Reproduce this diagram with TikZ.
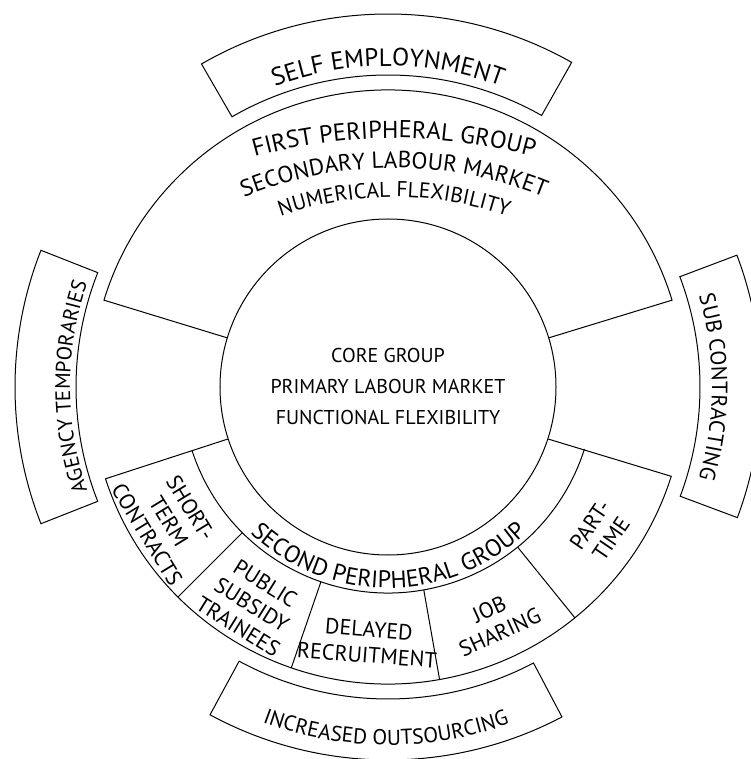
\documentclass[tikz,border=0pt]{standalone}
\usepackage{fontspec}
\setmainfont{PT Sans}
\usetikzlibrary{decorations.text}
\newcommand\ringbox[2]{\draw (#1:312pt) arc[start angle=#1, end angle=#2, radius=312pt] -- (#2:373pt) arc[start angle=#2, end angle=#1, radius=373pt] -- cycle;}
\begin{document}
\begin{tikzpicture}[x=1pt,y=1pt,line width=1pt,
  segtext/.style={align=center, inner sep=0pt, font=\fontsize{22}{25.5}\selectfont},
  curved/.style={decorate, decoration={text along path, text align=center, text={#1}}}]
\useasboundingbox (-388,-372) rectangle (362,387);
% core
\node[draw, circle, minimum size=336pt, inner sep=0pt, align=center,
      font=\fontsize{20}{31}\selectfont] (core) at (0,0)
      {CORE GROUP\\PRIMARY LABOUR MARKET\\FUNCTIONAL FLEXIBILITY};
% first peripheral group
\draw (core.17) -- (17:297pt) arc[start angle=17, end angle=163, radius=297pt] -- (core.163);
% second peripheral group
\draw (core.198) -- (198:297pt) arc[start angle=198, end angle=342.5, radius=297pt] -- (core.342.5);
\draw (198:206pt) arc[start angle=198, end angle=342.5, radius=206pt];
\foreach \a in {225,251,280,309} \draw (\a:206pt) -- (\a:297pt);
% outer boxes
\ringbox{60.5}{120}
\ringbox{158.5}{201.5}
\ringbox{-20.5}{20.7}
\ringbox{241.5}{297.8}
% curved texts
\path[curved={|\fontsize{25}{30}\selectfont|SELF EMPLOYNMENT}] (120:321pt) arc[start angle=120, end angle=60, radius=321pt];
\path[curved={|\fontsize{24.4}{30}\selectfont|FIRST PERIPHERAL GROUP}] ([shift={(6,-271)}]115:520pt) arc[start angle=115, end angle=65, radius=520pt];
\path[curved={|\fontsize{23.3}{30}\selectfont|SECONDARY LABOUR MARKET}] ([shift={(6,-181)}]120:400pt) arc[start angle=120, end angle=60, radius=400pt];
\path[curved={|\fontsize{21.5}{30}\selectfont|NUMERICAL FLEXIBILITY}] ([shift={(6,-150)}]125:340pt) arc[start angle=125, end angle=55, radius=340pt];
\path[curved={|\fontsize{21}{26}\selectfont|AGENCY TEMPORARIES}] (201.5:318pt) arc[start angle=201.5, end angle=158.5, radius=318pt];
\path[curved={|\fontsize{22}{26}\selectfont|SUB CONTRACTING}] (20.5:324pt) arc[start angle=20.5, end angle=-20.5, radius=324pt];
\path[curved={|\fontsize{21.5}{26}\selectfont|INCREASED OUTSOURCING}] (241.5:358pt) arc[start angle=241.5, end angle=297.8, radius=358pt];
\path[curved={|\fontsize{24}{30}\selectfont|SECOND PERIPHERAL GROUP}] (198:201pt) arc[start angle=198, end angle=342.5, radius=201pt];
% segment texts
\node[segtext, rotate=-58.5] (st) at (211.5:257pt) {SHORT-\\TERM\\CONTRACTS};
\node[segtext, rotate=-32] (ps) at (238:257pt) {PUBLIC\\SUBSIDY\\TRAINEES};
\node[segtext, rotate=-4.5] (dr) at (265.5:256pt) {DELAYED\\RECRUITMENT};
\node[segtext, rotate=24.5] (js) at (294.5:257pt) {JOB\\SHARING};
\node[segtext, rotate=55.75] (pt) at (325.75:257pt) {PART-\\TIME};
\end{tikzpicture}
\end{document}
